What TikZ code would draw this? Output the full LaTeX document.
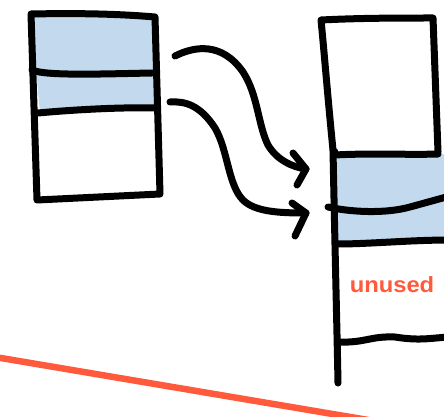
\documentclass[tikz,border=0pt]{standalone}
\usepackage{fontspec}
\newfontfamily\handfont{Liberation Sans}
\definecolor{boxblue}{RGB}{195,218,238}
\definecolor{inkred}{RGB}{255,90,60}
\tikzset{
  ink/.style={draw=black,line width=7pt,line cap=round,line join=round},
  redink/.style={draw=inkred,line width=6.5pt,line cap=round},
  fillblue/.style={fill=boxblue,draw=none},
  notelabel/.style={text=inkred,font=\handfont\bfseries\fontsize{22}{22}\selectfont,inner sep=0pt,xscale=1.08}
}
\begin{document}
\begin{tikzpicture}[x=1pt,y=-1pt]
\useasboundingbox (0,0) rectangle (444,417);
\clip (0,0) rectangle (444,417);
\fill[white] (0,0) rectangle (444,417);
% ---- left box ----
\path[fillblue] (31,14) .. controls (80,13) and (120,14) .. (155,17) -- (156,108)
   .. controls (120,107) and (70,110) .. (40,113) -- cycle;
\draw[ink] (31,14) .. controls (80,13) and (120,14) .. (155,17) -- (160,194)
   -- (37,200) -- cycle;
\draw[ink] (32,70) .. controls (45,76) and (100,74) .. (152,73);
\draw[ink] (38,113) .. controls (70,110) and (120,107) .. (156,108);
% ---- right box ----
\path[fillblue] (333,154) -- (438,154) -- (444,154) -- (444,240)
   .. controls (410,240) and (370,244) .. (336,244) -- cycle;
\draw[ink] (335,152) -- (333,150) .. controls (328,100) and (324,50) .. (321,20)
   .. controls (360,18) and (400,18) .. (433,18) -- (438,152);
\draw[ink] (333,150) .. controls (335,250) and (337,330) .. (338,383);
\draw[ink] (335,155) .. controls (370,153) and (410,155) .. (438,154);
\draw[ink] (328,207) .. controls (350,212) and (385,214) .. (410,207) -- (450,196);
\draw[ink] (337,244) .. controls (370,244) and (410,240) .. (450,240);
\draw[ink] (339,342) .. controls (365,343) and (370,336) .. (395,337)
   .. controls (420,341) and (430,338) .. (450,337);
\node[notelabel] (unused) at (392,285) {unused};
% ---- arrows ----
\coordinate (a1s) at (175,56);
\coordinate (a1e) at (306,169);
\coordinate (a2s) at (170,102);
\coordinate (a2e) at (306,213);
\draw[ink] (a1s) .. controls (195,46) and (222,42) .. (243,72)
   .. controls (258,95) and (258,125) .. (268,145)
   .. controls (277,160) and (292,167) .. (a1e);
\draw[ink] (293,153) -- (a1e) -- (297,185);
\draw[ink] (a2s) .. controls (185,101) and (200,105) .. (215,128)
   .. controls (228,150) and (228,185) .. (243,200)
   .. controls (255,212) and (280,213) .. (a2e);
\draw[ink] (292,203) -- (a2e) -- (295,236);
% ---- red line ----
\coordinate (r1) at (-5,357);
\coordinate (r2) at (380,422);
\draw[redink] (r1) -- (r2);
\end{tikzpicture}
\end{document}
